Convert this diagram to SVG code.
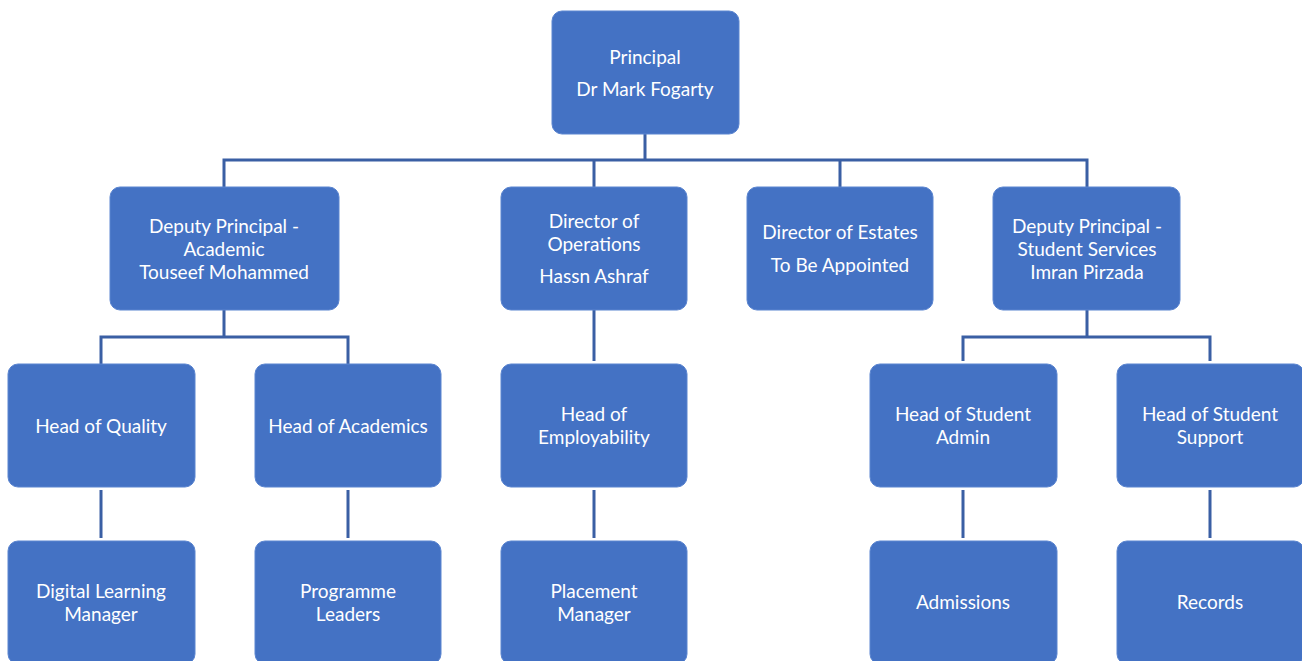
<svg xmlns="http://www.w3.org/2000/svg" width="1302" height="661" viewBox="0 0 1302 661">
<style>
.box{fill:#4472C4;stroke:#5B85D0;stroke-width:1}
.t{font-family:Lato,"Open Sans","Liberation Sans",sans-serif;font-size:19px;fill:#FFFFFF;text-anchor:middle}
.c{fill:none;stroke:#3A5FA4;stroke-width:3}
</style>
<rect width="1302" height="661" fill="#FFFFFF"/>
<g id="connectors">
<path class="c" d="M645 134V160M224 187V160H1087V187M594 160V187M840 160V187"/>
<path class="c" d="M224 310V337M101 364V337H348V364"/>
<path class="c" d="M594 310V361"/>
<path class="c" d="M1087 310V337M963 361V337H1210V361"/>
<path class="c" d="M101 490V538M348 490V538M594 490V538M963 490V538M1210 490V538"/>
</g>
<g id="principal"><rect class="box" x="552" y="11" width="187" height="123" rx="10"/><text class="t" x="645" y="64">Principal</text><text class="t" x="645" y="96">Dr Mark Fogarty</text></g>
<g id="dp-academic"><rect class="box" x="110" y="187" width="229" height="123" rx="10"/><text class="t" x="224" y="233">Deputy Principal -</text><text class="t" x="224" y="256">Academic</text><text class="t" x="224" y="279">Touseef Mohammed</text></g>
<g id="dir-operations"><rect class="box" x="501" y="187" width="186" height="123" rx="10"/><text class="t" x="594" y="228">Director of</text><text class="t" x="594" y="251">Operations</text><text class="t" x="594" y="283">Hassn Ashraf</text></g>
<g id="dir-estates"><rect class="box" x="747" y="187" width="186" height="123" rx="10"/><text class="t" x="840" y="239">Director of Estates</text><text class="t" x="840" y="272">To Be Appointed</text></g>
<g id="dp-student"><rect class="box" x="993" y="187" width="187" height="123" rx="10"/><text class="t" x="1087" y="233">Deputy Principal -</text><text class="t" x="1087" y="256">Student Services</text><text class="t" x="1087" y="279">Imran Pirzada</text></g>
<g id="head-quality"><rect class="box" x="8" y="364" width="187" height="123" rx="10"/><text class="t" x="101" y="433">Head of Quality</text></g>
<g id="head-academics"><rect class="box" x="255" y="364" width="186" height="123" rx="10"/><text class="t" x="348" y="433">Head of Academics</text></g>
<g id="head-employability"><rect class="box" x="501" y="364" width="186" height="123" rx="10"/><text class="t" x="594" y="421">Head of</text><text class="t" x="594" y="444">Employability</text></g>
<g id="head-student-admin"><rect class="box" x="870" y="364" width="187" height="123" rx="10"/><text class="t" x="963" y="421">Head of Student</text><text class="t" x="963" y="444">Admin</text></g>
<g id="head-student-support"><rect class="box" x="1117" y="364" width="187" height="123" rx="10"/><text class="t" x="1210" y="421">Head of Student</text><text class="t" x="1210" y="444">Support</text></g>
<g id="digital-learning"><rect class="box" x="8" y="541" width="187" height="123" rx="10"/><text class="t" x="101" y="598">Digital Learning</text><text class="t" x="101" y="621">Manager</text></g>
<g id="programme-leaders"><rect class="box" x="255" y="541" width="186" height="123" rx="10"/><text class="t" x="348" y="598">Programme</text><text class="t" x="348" y="621">Leaders</text></g>
<g id="placement-manager"><rect class="box" x="501" y="541" width="186" height="123" rx="10"/><text class="t" x="594" y="598">Placement</text><text class="t" x="594" y="621">Manager</text></g>
<g id="admissions"><rect class="box" x="870" y="541" width="187" height="123" rx="10"/><text class="t" x="963" y="609">Admissions</text></g>
<g id="records"><rect class="box" x="1117" y="541" width="187" height="123" rx="10"/><text class="t" x="1210" y="609">Records</text></g>
</svg>
